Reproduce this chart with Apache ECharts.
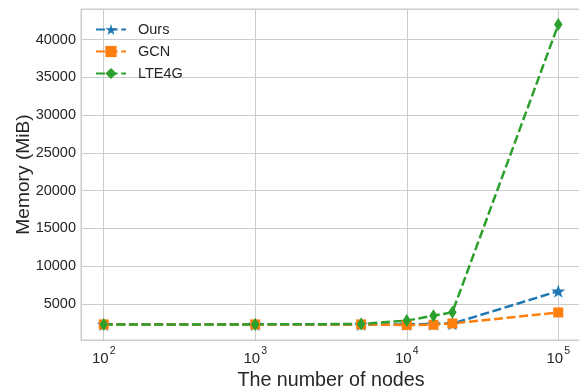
<!DOCTYPE html>
<html>
<head>
<meta charset="utf-8">
<script src="https://cdn.jsdelivr.net/npm/echarts@6/dist/echarts.min.js"></script>
<style>
html,body{margin:0;padding:0;background:#fff;}
#chart{width:579px;height:388px;}
</style>
</head>
<body>
<div id="chart"></div>
<script>
const nodes = [100, 1000, 5000, 10000, 15000, 20000, 100000];
const ours = [2300, 2300, 2300, 2300, 2350, 2400, 6700];
const gcn = [2300, 2300, 2300, 2220, 2250, 2420, 3880];
const lte4g = [2300, 2300, 2350, 2800, 3450, 3900, 42000];
const seriesNames = ['Ours', 'GCN', 'LTE4G'];
const colors = ['#1f77b4', '#ff7f0e', '#2ca02c'];

const FONT = "'Liberation Sans', Arial, sans-serif";
const TXT = '#262626';
const GRID = '#cccccc';
const starPath = 'path://M50 0 L61.23 34.55 L97.55 34.55 L68.17 55.9 L79.39 90.45 L50 69.1 L20.61 90.45 L31.83 55.9 L2.45 34.55 L38.77 34.55 Z';

function pairs(xs, ys) { return xs.map((x, i) => [x, ys[i]]); }

const chart = echarts.init(document.getElementById('chart'), null, {renderer: 'canvas'});
const dash = [9, 3.6];
const mk = (name, data, color, symbol, size) => ({
  name, type: 'line', data: pairs(nodes, data), symbol, symbolSize: size,
  lineStyle: {color, width: 2.5, type: dash},
  itemStyle: {color, borderWidth: 0},
  emphasis: {disabled: true}, animation: false
});

chart.setOption({
  backgroundColor: '#ffffff',
  textStyle: {fontFamily: FONT},
  animation: false,
  grid: {left: 81, top: 9, width: 500, height: 331, show: true, borderColor: GRID, borderWidth: 1,
         containLabel: false, outerBoundsMode: 'none'},
  legend: {
    left: 90, top: 17, orient: 'vertical', itemWidth: 30, itemHeight: 14, itemGap: 7,
    textStyle: {fontSize: 14.5, color: TXT, fontFamily: FONT, padding: [0, 0, 0, 7]},
    data: seriesNames
  },
  xAxis: {
    type: 'log', logBase: 10, min: Math.pow(10, 1.85), max: Math.pow(10, 5.15),
    name: 'The number of nodes', nameLocation: 'middle', nameGap: 19,
    nameTextStyle: {fontSize: 19.7, color: TXT, fontFamily: FONT},
    axisLine: {show: true, lineStyle: {color: GRID, width: 1}},
    axisTick: {show: false},
    minorTick: {show: false},
    splitLine: {show: true, lineStyle: {color: GRID, width: 1}},
    axisLabel: {
      showMinLabel: false, showMaxLabel: false, margin: 6,
      formatter: v => '{b|10}{s|' + Math.round(Math.log10(v)) + '}',
      rich: {
        b: {fontSize: 15, color: TXT, fontFamily: FONT, verticalAlign: 'bottom', lineHeight: 20},
        s: {fontSize: 10.5, color: TXT, fontFamily: FONT, verticalAlign: 'top', lineHeight: 20, padding: [0, 0, 8, 1]}
      }
    }
  },
  yAxis: {
    type: 'value', min: 232, max: 44066, splitNumber: 9, minInterval: 5000, maxInterval: 5000,
    name: 'Memory (MiB)', nameLocation: 'middle', nameGap: 48, nameMoveOverlap: false,
    nameTextStyle: {fontSize: 19.2, color: TXT, fontFamily: FONT},
    axisLine: {show: true, lineStyle: {color: GRID, width: 1}},
    axisTick: {show: false},
    splitLine: {show: true, lineStyle: {color: GRID, width: 1}},
    axisLabel: {showMinLabel: false, showMaxLabel: false, margin: 5, fontSize: 14.5, color: TXT, fontFamily: FONT, formatter: v => String(v)}
  },
  series: [
    mk(seriesNames[0], ours, colors[0], starPath, [14, 13.3]),
    mk(seriesNames[1], gcn, colors[1], 'rect', 10),
    mk(seriesNames[2], lte4g, colors[2], 'diamond', [8.5, 13])
  ]
});
</script>
</body>
</html>
